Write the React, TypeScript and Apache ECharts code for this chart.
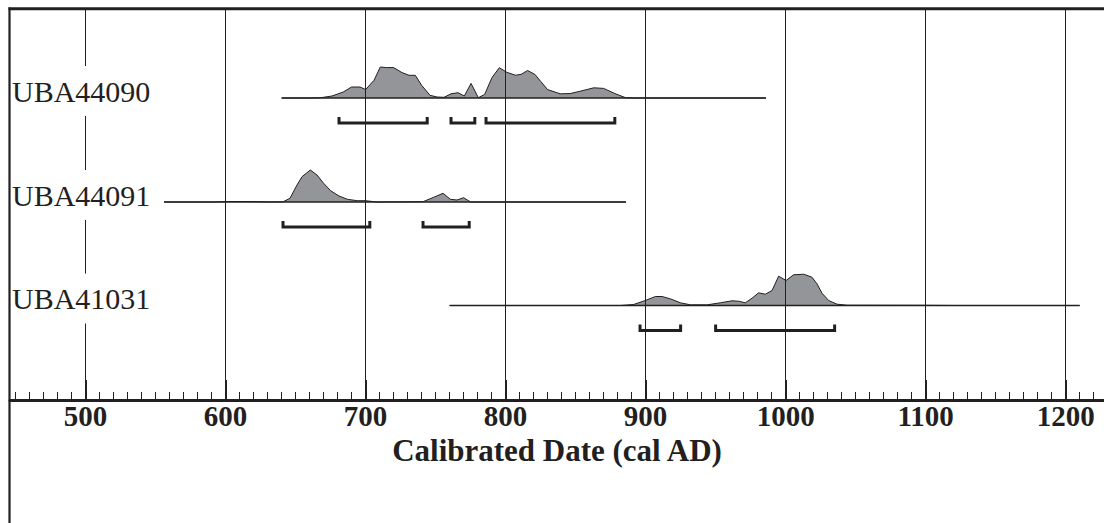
import React, { useEffect, useRef } from "react";
import * as echarts from "echarts";

// ---- data -----------------------------------------------------------
const sampleNames = ["UBA44090", "UBA44091", "UBA41031"];

// [calendar year AD, relative probability]
const dist44090: [number, number][] = [
  [640, 0], [660, 0], [668, 0.3], [676, 2], [684, 6], [690, 11], [696, 11], [700, 8.4],
  [706, 17.7], [710.5, 31], [715, 30.4], [720, 30.4], [726, 25.4], [731, 22.7], [735.5, 22.7],
  [740, 12.7], [746, 2.7], [751, 1], [756, 0.7], [761, 4.2], [766, 5.3], [770.5, 2],
  [775.3, 14.6], [780.5, 0.3], [785, 3.5], [790.3, 20.5], [795.5, 30.3], [801, 25.6],
  [807, 22.8], [811, 23.6], [815.7, 27.5], [821, 23.5], [825, 16.7], [830, 8.4], [839, 4.2],
  [846, 4.4], [853, 6.7], [863, 10.2], [870, 9.6], [878, 4.5], [885.5, 0.4], [892, 0], [986, 0],
];
const dist44091: [number, number][] = [
  [556, 0], [592, 0], [602, 0.5], [618, 0.5], [632, 0], [641, 0.2], [646, 3.7], [651, 17],
  [654.6, 25.3], [660.5, 32], [665.3, 27], [670, 18.7], [675, 11.3], [681, 6], [687, 2.7],
  [694, 1.3], [700, 1.3], [708, 0], [741, 0.3], [748.6, 4.7], [755.3, 8.7], [760.5, 2.7],
  [765.3, 2], [770, 4.3], [775, 0], [886, 0],
];
const dist41031: [number, number][] = [
  [760, 0], [882, 0], [891.4, 1], [899.8, 5], [907, 9], [911.7, 9], [917.6, 6.7], [924.8, 2.7],
  [932, 0.7], [944, 0.7], [953.4, 2.7], [961.7, 4.7], [966.4, 4.3], [971.2, 2.7], [976, 7.3],
  [980.7, 12.7], [985.5, 11.3], [990.3, 15], [995, 29.3], [1000.3, 25], [1005.7, 30.7],
  [1012.9, 31.3], [1018.8, 28.3], [1022.4, 21.7], [1026, 12.3], [1030.7, 5], [1036.7, 1.3],
  [1044, 0.3], [1100, 0.2], [1120, 0], [1210, 0],
];

// 95.4% ranges [from, to]
const ranges44090: [number, number][] = [[681, 744], [761, 778], [786, 878]];
const ranges44091: [number, number][] = [[641, 703], [741, 774]];
const ranges41031: [number, number][] = [[896, 925], [950, 1035]];

const majorTicks = [500, 600, 700, 800, 900, 1000, 1100, 1200];
const axisTitle = "Calibrated Date (cal AD)";

const distributions = [dist44090, dist44091, dist41031];
const ranges = [ranges44090, ranges44091, ranges41031];

// ---- layout ---------------------------------------------------------
const W = 1104;
const H = 523;
const X_MIN = 446;
const X_MAX = 1227.4;
const GRID_TOP = 9;
const AXIS_Y = 400;
const rowBaselinePx = [98, 202, 305.5];
const BRACKET_DROP = 25;
const BRACKET_TIP = 6;
const INK = "#231f20";
const FILL = "#939598";
const FONT = "'Liberation Serif', 'Times New Roman', serif";

const minorTicks: number[] = [];
for (let v = 450; v <= 1220; v += 10) minorTicks.push(v);

export default function App() {
  const ref = useRef<HTMLDivElement>(null);

  useEffect(() => {
    document.body.style.margin = "0";
    if (!ref.current) return;
    const chart = echarts.init(ref.current, undefined, { renderer: "svg" });

    const series: any[] = [];
    distributions.forEach((dist, i) => {
      const base = AXIS_Y - rowBaselinePx[i];
      series.push({
        type: "line",
        data: dist.map(([x, p]) => [x, base + p]),
        symbol: "none",
        lineStyle: { color: INK, width: 1 },
        areaStyle: { color: FILL, opacity: 1, origin: base },
        z: 2,
        silent: true,
      });
      series.push({
        type: "line",
        data: [
          [dist[0][0], base],
          [dist[dist.length - 1][0], base],
        ],
        symbol: "none",
        lineStyle: { color: INK, width: 1.3 },
        z: 3,
        silent: true,
      });
      const yb = base - BRACKET_DROP;
      ranges[i].forEach(([a, b]) => {
        series.push({
          type: "line",
          data: [
            [a, yb + BRACKET_TIP],
            [a, yb],
            [b, yb],
            [b, yb + BRACKET_TIP],
          ],
          symbol: "none",
          lineStyle: { color: INK, width: 3, cap: "butt", join: "miter" },
          z: 4,
          silent: true,
        });
      });
    });

    // grid lines at every century
    series.push({
      type: "line",
      data: [],
      symbol: "none",
      z: 5,
      silent: true,
      markLine: {
        silent: true,
        symbol: ["none", "none"],
        label: { show: false },
        lineStyle: { color: INK, width: 1, type: "solid" },
        data: majorTicks.map((v) => ({ xAxis: v })),
        animation: false,
      },
    });

    const graphics: any[] = [
      {
        type: "line",
        z: 200,
        shape: { x1: 9.5, y1: 7.5, x2: 9.5, y2: H },
        style: { stroke: INK, lineWidth: 2.2 },
      },
      {
        type: "line",
        z: 200,
        shape: { x1: 8.5, y1: 8.8, x2: W, y2: 8.8 },
        style: { stroke: INK, lineWidth: 3 },
      },
    ];
    sampleNames.forEach((name, i) => {
      graphics.push({
        type: "text",
        z: 150,
        x: 11,
        y: rowBaselinePx[i] - 7,
        style: {
          text: name,
          fill: INK,
          fontSize: 30,
          fontFamily: FONT,
          verticalAlign: "middle",
          align: "left",
          backgroundColor: "#ffffff",
          padding: [10, 2, 10, 1],
        },
      });
    });

    const option: any = {
      animation: false,
      grid: { left: 10, right: 0, top: GRID_TOP, bottom: H - AXIS_Y, containLabel: false },
      xAxis: [
        {
          type: "value",
          min: X_MIN,
          max: X_MAX,
          position: "bottom",
          z: 10,
          axisLine: { show: true, lineStyle: { color: INK, width: 3 } },
          axisTick: {
            show: true,
            inside: true,
            length: 8,
            lineStyle: { color: INK, width: 1 },
            customValues: minorTicks,
          },
          axisLabel: { show: false },
          splitLine: { show: false },
        },
        {
          type: "value",
          min: X_MIN,
          max: X_MAX,
          position: "bottom",
          z: 11,
          axisLine: { show: false },
          axisTick: {
            show: true,
            inside: true,
            length: 20,
            lineStyle: { color: INK, width: 2 },
            customValues: majorTicks,
          },
          axisLabel: {
            show: true,
            customValues: majorTicks,
            formatter: (v: number) => String(v),
            margin: 1,
            color: INK,
            fontSize: 29,
            fontWeight: "bold",
            fontFamily: FONT,
            showMinLabel: true,
            showMaxLabel: true,
          },
          splitLine: { show: false },
          name: axisTitle,
          nameLocation: "middle",
          nameGap: 34,
          nameTextStyle: {
            color: INK,
            fontSize: 31,
            fontWeight: "bold",
            fontFamily: FONT,
          },
        },
      ],
      yAxis: {
        type: "value",
        min: 0,
        max: AXIS_Y - GRID_TOP,
        show: false,
        splitLine: { show: false },
      },
      series,
      graphic: graphics,
    };
    chart.setOption(option);
    return () => chart.dispose();
  }, []);

  return <div ref={ref} style={{ width: W, height: H, background: "#fff" }} />;
}
